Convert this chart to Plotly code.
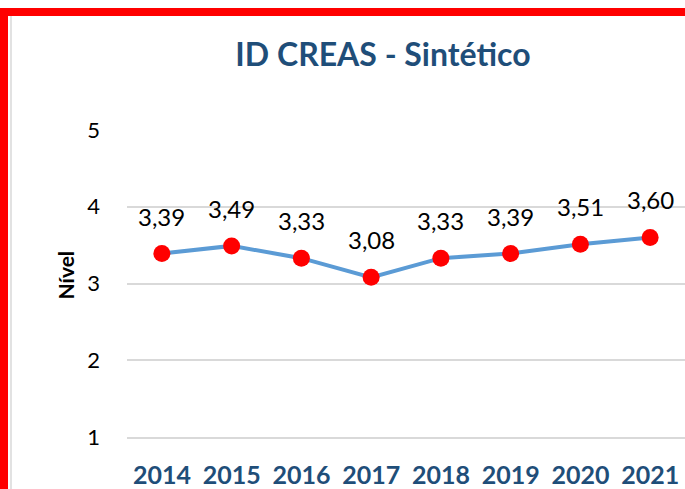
import plotly.graph_objects as go

# Índice de Desenvolvimento do CREAS (sintético) por ano
anos = ["2014", "2015", "2016", "2017", "2018", "2019", "2020", "2021"]
nivel = [3.39, 3.49, 3.33, 3.08, 3.33, 3.39, 3.51, 3.60]
y_ticks = [1, 2, 3, 4, 5]

FONT = "Lato"
W, H = 685, 489
ML, MR, MT, MB = 127, 0, 130, 52
PW, PH = W - ML - MR, H - MT - MB


def px_x(p):
    return (p - ML) / PW


def px_y(p):
    return (H - MB - p) / PH


fig = go.Figure()
fig.add_trace(go.Scatter(
    x=anos, y=nivel, mode="lines+markers",
    line=dict(color="#5B9BD5", width=4),
    marker=dict(color="#FF0000", size=17),
    hoverinfo="skip", showlegend=False,
))

# rótulos de valor com vírgula decimal (posição pelo índice da categoria)
for i, v in enumerate(nivel):
    fig.add_annotation(
        x=i, y=v, text=f"{v:.2f}".replace(".", ","), showarrow=False,
        yanchor="bottom", yshift=21,
        font=dict(family=FONT, size=24, color="#000000"),
    )

# eixo "Nível"
fig.add_annotation(
    xref="paper", yref="paper", x=px_x(50), y=px_y(275),
    text="<b>Nível</b>", textangle=-90, showarrow=False,
    font=dict(family=FONT, size=21, color="#000000"),
)

# moldura vermelha (topo e esquerda) e linha cinza interna
shapes = [
    dict(type="rect", xref="paper", yref="paper", x0=px_x(0), x1=px_x(W),
         y0=px_y(16), y1=px_y(8), fillcolor="#FF0000", line=dict(width=0), layer="above"),
    dict(type="rect", xref="paper", yref="paper", x0=px_x(0), x1=px_x(8),
         y0=px_y(H), y1=px_y(8), fillcolor="#FF0000", line=dict(width=0), layer="above"),
    dict(type="line", xref="paper", yref="paper", x0=px_x(11), x1=px_x(11),
         y0=px_y(H), y1=px_y(16), line=dict(color="#D9D9D9", width=1.5)),
]

fig.update_layout(
    width=W, height=H,
    margin=dict(l=ML, r=MR, t=MT, b=MB, pad=0),
    paper_bgcolor="#FFFFFF", plot_bgcolor="#FFFFFF",
    shapes=shapes,
    title=dict(
        text="<b>ID CREAS - Sintético</b>",
        x=383 / W, xanchor="center", y=1 - 55 / H, yanchor="middle",
        xref="container", yref="container",
        font=dict(family=FONT, size=32, color="#1F4E79"),
    ),
    xaxis=dict(
        type="category", showgrid=False, zeroline=False,
        showline=True, linecolor="#D9D9D9", linewidth=1.5,
        ticks="", ticklabelstandoff=15,
        tickfont=dict(family=FONT, size=25, color="#1F4E79", weight="bold"),
        range=[-0.5, 7.5],
    ),
    yaxis=dict(
        range=[1, 5], tickvals=y_ticks, ticktext=[str(t) for t in y_ticks],
        showgrid=True, gridcolor="#D9D9D9", gridwidth=1.5, zeroline=False,
        showline=False, ticks="", ticklabelstandoff=26,
        tickfont=dict(family=FONT, size=22, color="#000000"),
    ),
)

fig.write_html("out.html")
